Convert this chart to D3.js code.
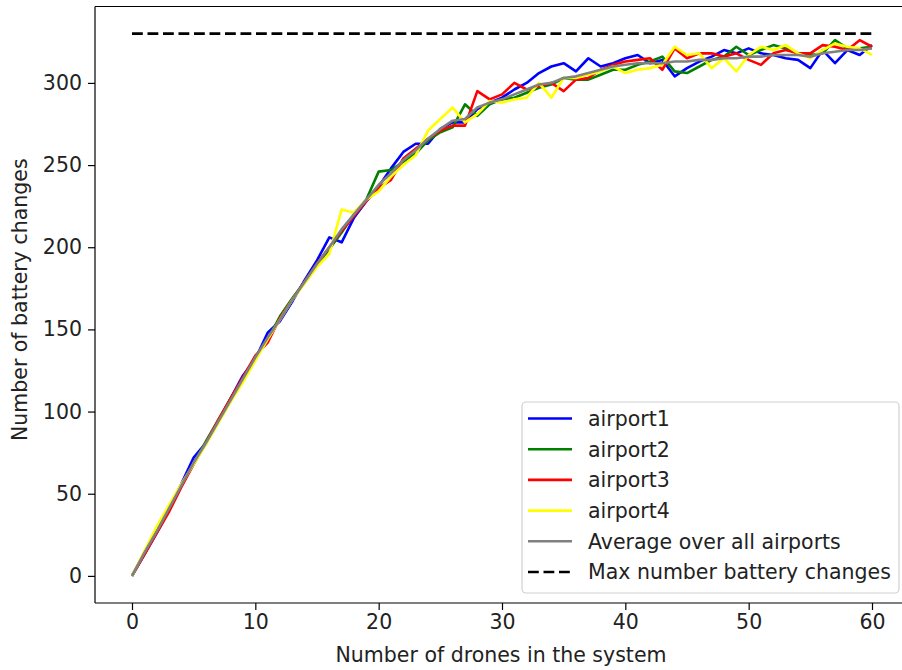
<!DOCTYPE html>
<html>
<head>
<meta charset="utf-8">
<script src="https://cdn.jsdelivr.net/npm/d3@7"></script>
<style>
  html, body { margin: 0; padding: 0; background: #fff; overflow: hidden; }
  svg { display: block; font-family: "DejaVu Sans", sans-serif; }
</style>
</head>
<body>
<svg id="chart" width="902" height="670"></svg>
<script>
// Number of drones in the system (x values)
const drones = d3.range(0, 61);

const airport1 = [0, 13, 26, 40, 56, 72, 81, 94, 108, 122, 132, 148, 155, 167, 180, 192, 206, 203, 218, 228,
  237, 248, 258, 263, 263, 272, 276, 276, 284, 288, 291, 296, 300, 306, 310, 312, 307, 315, 310, 312,
  315, 317, 312, 314, 304, 309, 313, 316, 320, 318, 321, 318, 317, 315, 314, 309, 320, 312, 320, 317, 323];

const airport2 = [0, 14, 28, 41, 55, 68, 82, 95, 108, 120, 133, 144, 158, 169, 179, 189, 199, 209, 220, 229,
  246, 247, 252, 257, 265, 270, 273, 287, 280, 287, 290, 291, 294, 297, 299, 303, 302, 302, 305, 308,
  308, 311, 313, 316, 307, 306, 310, 314, 316, 322, 317, 320, 323, 321, 318, 317, 318, 326, 321, 321, 322];

const airport3 = [0, 13, 26, 39, 54, 68, 81, 95, 108, 121, 134, 142, 157, 168, 179, 190, 200, 210, 219, 228,
  236, 241, 254, 260, 266, 271, 274, 274, 295, 290, 293, 300, 296, 298, 300, 295, 302, 303, 308, 311,
  313, 314, 315, 308, 321, 315, 318, 318, 316, 318, 314, 311, 318, 320, 318, 318, 323, 322, 320, 326, 322];

const airport4 = [0, 15, 30, 43, 56, 68, 80, 93, 106, 118, 131, 144, 156, 168, 178, 188, 196, 223, 221, 229,
  234, 243, 250, 256, 271, 278, 285, 276, 281, 289, 288, 290, 291, 300, 291, 303, 303, 305, 307, 310,
  306, 308, 309, 311, 322, 317, 318, 309, 315, 307, 317, 322, 320, 323, 318, 315, 320, 324, 322, 321, 317];

const average = [0, 14, 27, 41, 55, 69, 81, 94, 107, 120, 133, 145, 156, 168, 179, 190, 200, 211, 220, 229,
  238, 245, 253, 259, 266, 272, 277, 278, 285, 288, 290, 293, 296, 299, 300, 303, 304, 306, 308, 310,
  311, 312, 312, 312, 313, 313, 314, 314, 315, 315, 316, 316, 317, 317, 317, 316, 318, 319, 320, 320, 321];

const maxChanges = 330;

const seriesNames = ["airport1", "airport2", "airport3", "airport4", "Average over all airports"];
const seriesValues = [airport1, airport2, airport3, airport4, average];
const seriesColors = ["#0000ff", "#008000", "#ff0000", "#ffff00", "#808080"];
const maxLabel = "Max number battery changes";

const xTicks = [0, 10, 20, 30, 40, 50, 60];
const yTicks = [0, 50, 100, 150, 200, 250, 300];

// Plot area (the right edge of the axes lies just past the canvas)
const plotLeft = 95, plotRight = 909, plotTop = 6.5, plotBottom = 603;
const svg = d3.select("#chart");

const x = d3.scaleLinear().domain([-3, 63]).range([plotLeft, plotRight]);
const y = d3.scaleLinear().domain([-16.5, 346.5]).range([plotBottom, plotTop]);

svg.append("defs").append("clipPath").attr("id", "plot-clip")
  .append("rect").attr("x", plotLeft).attr("y", plotTop)
  .attr("width", plotRight - plotLeft).attr("height", plotBottom - plotTop);

const fontSize = 20.5;
const textColor = "#222";

// Axes
const xAxis = svg.append("g")
  .attr("transform", `translate(0,${plotBottom})`)
  .call(d3.axisBottom(x).tickValues(xTicks).tickSize(7).tickPadding(4).tickFormat(d3.format("d")));
const yAxis = svg.append("g")
  .attr("transform", `translate(${plotLeft},0)`)
  .call(d3.axisLeft(y).tickValues(yTicks).tickSize(7).tickPadding(6).tickFormat(d3.format("d")));

[xAxis, yAxis].forEach(g => {
  g.select(".domain").remove();
  g.selectAll(".tick line").attr("stroke", "#000").attr("stroke-width", 1.2);
  g.selectAll(".tick text").attr("fill", textColor)
    .style("font-size", fontSize + "px").style("font-family", "DejaVu Sans, sans-serif");
});

// Frame: left, top and bottom spines
const frame = svg.append("g").attr("stroke", "#000").attr("stroke-width", 1.2);
frame.append("line").attr("x1", plotLeft).attr("x2", plotLeft).attr("y1", plotTop).attr("y2", plotBottom);
frame.append("line").attr("x1", plotLeft).attr("x2", 902).attr("y1", plotTop).attr("y2", plotTop);
frame.append("line").attr("x1", plotLeft).attr("x2", 902).attr("y1", plotBottom).attr("y2", plotBottom);

// Series lines
const plot = svg.append("g").attr("clip-path", "url(#plot-clip)");
const line = d3.line().x((d, i) => x(drones[i])).y(d => y(d));

seriesValues.forEach((vals, k) => {
  plot.append("path")
    .datum(vals)
    .attr("d", line)
    .attr("fill", "none")
    .attr("stroke", seriesColors[k])
    .attr("stroke-width", 2.6)
    .attr("stroke-linejoin", "round")
    .attr("stroke-linecap", "butt");
});

// Maximum battery changes reference line
plot.append("path")
  .datum([drones[0], drones[drones.length - 1]])
  .attr("d", d3.line().x(d => x(d)).y(() => y(maxChanges)))
  .attr("fill", "none")
  .attr("stroke", "#000")
  .attr("stroke-width", 2.6)
  .attr("stroke-dasharray", "10.8,4.7");

// Axis titles
svg.append("text")
  .attr("x", 501)
  .attr("y", 662)
  .attr("text-anchor", "middle")
  .attr("fill", textColor)
  .style("font-size", fontSize + "px")
  .text("Number of drones in the system");

svg.append("text")
  .attr("transform", `translate(27,${(plotTop + plotBottom) / 2 - 5}) rotate(-90)`)
  .attr("text-anchor", "middle")
  .attr("fill", textColor)
  .style("font-size", fontSize + "px")
  .text("Number of battery changes");

// Legend
const legend = svg.append("g");
legend.append("rect")
  .attr("x", 522).attr("y", 402)
  .attr("width", 377).attr("height", 191)
  .attr("rx", 4).attr("ry", 4)
  .attr("fill", "#fff").attr("fill-opacity", 0.8)
  .attr("stroke", "#d0d0d0").attr("stroke-width", 1.2);

const legendItems = seriesNames.map((n, i) => ({ name: n, color: seriesColors[i], dash: null }))
  .concat([{ name: maxLabel, color: "#000", dash: "10.8,4.7" }]);

legendItems.forEach((item, i) => {
  const cy = 418.5 + i * 30.7;
  legend.append("line")
    .attr("x1", 528).attr("x2", 572)
    .attr("y1", cy).attr("y2", cy)
    .attr("stroke", item.color)
    .attr("stroke-width", 2.6)
    .attr("stroke-dasharray", item.dash);
  legend.append("text")
    .attr("x", 588).attr("y", cy)
    .attr("dy", "0.36em")
    .attr("fill", textColor)
    .style("font-size", fontSize + "px")
    .text(item.name);
});
</script>
</body>
</html>
